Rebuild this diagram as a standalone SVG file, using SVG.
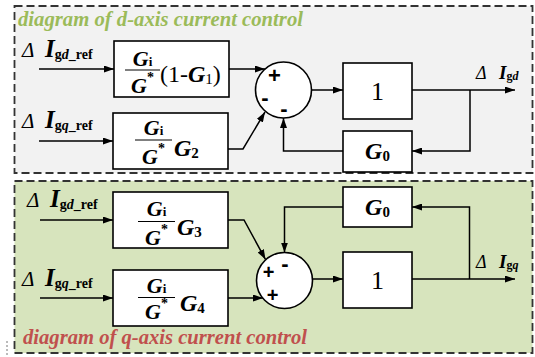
<svg xmlns="http://www.w3.org/2000/svg" width="535" height="357" viewBox="0 0 535 357">
<style>
.panel{stroke:#333;stroke-width:1.8;stroke-dasharray:8,4}
.blk{fill:#fff;stroke:#000;stroke-width:1.6}
.sum{fill:#fff;stroke:#000;stroke-width:1.6}
.ln{fill:none;stroke:#000;stroke-width:1.5}
.frac{stroke:#000;stroke-width:1}
.t{font-family:"Liberation Serif","Times New Roman",serif;fill:#000}
.gb{font-weight:bold;font-style:italic}
.bu{font-weight:bold;font-style:normal}
.rg{font-weight:normal;font-style:normal}
.it{font-style:italic;font-weight:normal}
.sg{font-family:"Liberation Sans",Arial,sans-serif;fill:#000;text-anchor:middle;font-weight:bold}
.title{font-family:"Liberation Serif","Times New Roman",serif;font-weight:bold;font-style:italic;font-size:21px}
</style>
<defs>
<marker id="ah" markerUnits="userSpaceOnUse" markerWidth="10" markerHeight="7" refX="10" refY="3.5" orient="auto">
<path d="M0,0 L10,3.5 L0,7 z" fill="#000"/>
</marker>
</defs>

<g id="panel-d">
<rect class="panel" x="14.5" y="6" width="518" height="167" fill="#f2f2f2"/>
<text class="title" x="18" y="26" fill="#9bbb59" textLength="285" lengthAdjust="spacingAndGlyphs">diagram of d-axis current control</text>
</g>
<g id="panel-q">
<rect class="panel" x="14.5" y="181" width="518" height="172" fill="#d7e4bd"/>
<text class="title" x="23" y="344" fill="#c0504d" textLength="284" lengthAdjust="spacingAndGlyphs">diagram of q-axis current control</text>
<line x1="7" y1="341" x2="7" y2="355" stroke="#777" stroke-width="1" stroke-dasharray="2,2"/>
</g>

<g id="connectors">
<line class="ln" x1="39" y1="69" x2="114" y2="69" marker-end="url(#ah)"/>
<line class="ln" x1="39" y1="141" x2="113" y2="141" marker-end="url(#ah)"/>
<line class="ln" x1="229" y1="69" x2="265" y2="69" marker-end="url(#ah)"/>
<polyline class="ln" points="228,149 243,149 265,112" marker-end="url(#ah)"/>
<line class="ln" x1="311.5" y1="90" x2="343" y2="90" marker-end="url(#ah)"/>
<line class="ln" x1="412" y1="90" x2="515" y2="90" marker-end="url(#ah)"/>
<polyline class="ln" points="470,90 470,151 412,151" marker-end="url(#ah)"/>
<polyline class="ln" points="343,151 283.5,151 283.5,118" marker-end="url(#ah)"/>

<line class="ln" x1="40" y1="220" x2="113" y2="220" marker-end="url(#ah)"/>
<line class="ln" x1="40" y1="298" x2="113" y2="298" marker-end="url(#ah)"/>
<polyline class="ln" points="228,220 244,220 265.5,259.5" marker-end="url(#ah)"/>
<line class="ln" x1="228" y1="298" x2="263" y2="298" marker-end="url(#ah)"/>
<line class="ln" x1="312.5" y1="279" x2="343" y2="279" marker-end="url(#ah)"/>
<line class="ln" x1="412" y1="279" x2="515" y2="279" marker-end="url(#ah)"/>
<polyline class="ln" points="469.5,279 469.5,207 412,207" marker-end="url(#ah)"/>
<polyline class="ln" points="343,207 284.5,207 284.5,252.5" marker-end="url(#ah)"/>
</g>

<g id="label-in1">
<text class="t it" x="22" y="57" font-size="21">Δ</text>
<text class="t gb" x="45" y="57" font-size="25">I<tspan class="bu" font-size="14" dy="2">g</tspan><tspan class="gb" font-size="14">d</tspan><tspan class="bu" font-size="14">_ref</tspan></text>
</g>
<g id="label-in2">
<text class="t it" x="22" y="128" font-size="21">Δ</text>
<text class="t gb" x="45" y="128" font-size="25">I<tspan class="bu" font-size="14" dy="2">g</tspan><tspan class="gb" font-size="14">q</tspan><tspan class="bu" font-size="14">_ref</tspan></text>
</g>
<g id="label-in3">
<text class="t it" x="27" y="207" font-size="21">Δ</text>
<text class="t gb" x="50" y="207" font-size="25">I<tspan class="bu" font-size="14" dy="2">g</tspan><tspan class="gb" font-size="14">d</tspan><tspan class="bu" font-size="14">_ref</tspan></text>
</g>
<g id="label-in4">
<text class="t it" x="22" y="286" font-size="21">Δ</text>
<text class="t gb" x="45" y="286" font-size="25">I<tspan class="bu" font-size="14" dy="2">g</tspan><tspan class="gb" font-size="14">q</tspan><tspan class="bu" font-size="14">_ref</tspan></text>
</g>

<g id="block1">
<rect class="blk" x="114" y="41" width="115" height="56"/>
<text class="t gb" x="142.5" y="66" font-size="22" text-anchor="middle">G<tspan class="bu" font-size="13">i</tspan></text>
<line class="frac" x1="125" y1="70" x2="160" y2="70"/>
<text class="t gb" x="142.5" y="93" font-size="22" text-anchor="middle">G<tspan class="bu" font-size="14" dy="-11">*</tspan></text>
<text class="t rg" x="160" y="82" font-size="24">(1-<tspan class="gb">G</tspan><tspan class="rg" font-size="15" dy="2">1</tspan><tspan dy="-2">)</tspan></text>
</g>
<g id="block2">
<rect class="blk" x="113" y="113" width="115" height="56"/>
<text class="t gb" x="153.5" y="135" font-size="22" text-anchor="middle">G<tspan class="bu" font-size="13">i</tspan></text>
<line class="frac" x1="135" y1="140" x2="172" y2="140"/>
<text class="t gb" x="153.5" y="164" font-size="22" text-anchor="middle">G<tspan class="bu" font-size="14" dy="-11">*</tspan></text>
<text class="t gb" x="174" y="156" font-size="24">G<tspan class="bu" font-size="15" dy="2">2</tspan></text>
</g>
<g id="block3">
<rect class="blk" x="113" y="192" width="115" height="56"/>
<text class="t gb" x="156.5" y="216" font-size="22" text-anchor="middle">G<tspan class="bu" font-size="13">i</tspan></text>
<line class="frac" x1="138" y1="221.5" x2="175" y2="221.5"/>
<text class="t gb" x="156.5" y="245" font-size="22" text-anchor="middle">G<tspan class="bu" font-size="14" dy="-11">*</tspan></text>
<text class="t gb" x="177" y="235" font-size="24">G<tspan class="bu" font-size="15" dy="2">3</tspan></text>
</g>
<g id="block4">
<rect class="blk" x="113" y="270" width="115" height="56"/>
<text class="t gb" x="156.5" y="293" font-size="22" text-anchor="middle">G<tspan class="bu" font-size="13">i</tspan></text>
<line class="frac" x1="138" y1="297.5" x2="175" y2="297.5"/>
<text class="t gb" x="156.5" y="319" font-size="22" text-anchor="middle">G<tspan class="bu" font-size="14" dy="-11">*</tspan></text>
<text class="t gb" x="180" y="311" font-size="24">G<tspan class="bu" font-size="15" dy="2">4</tspan></text>
</g>

<g id="sum-d">
<circle class="sum" cx="283.5" cy="90" r="28"/>
<text class="sg" x="274.5" y="83" font-size="22">+</text>
<text class="sg" x="265" y="105" font-size="22">-</text>
<text class="sg" x="284" y="116" font-size="22">-</text>
</g>
<g id="sum-q">
<circle class="sum" cx="284.5" cy="280.5" r="28"/>
<text class="sg" x="268.5" y="279" font-size="20">+</text>
<text class="sg" x="285" y="271" font-size="22">-</text>
<text class="sg" x="272.5" y="302" font-size="20">+</text>
</g>

<g id="one-d">
<rect class="blk" x="343" y="63" width="69" height="56"/>
<text class="t rg" x="377.5" y="100" font-size="26" text-anchor="middle">1</text>
</g>
<g id="g0-d">
<rect class="blk" x="343" y="131" width="69" height="41"/>
<text class="t gb" x="377.5" y="159" font-size="24" text-anchor="middle">G<tspan class="bu" font-size="15" dy="2">0</tspan></text>
</g>
<g id="one-q">
<rect class="blk" x="343" y="252" width="69" height="56"/>
<text class="t rg" x="377.5" y="289" font-size="26" text-anchor="middle">1</text>
</g>
<g id="g0-q">
<rect class="blk" x="343" y="187" width="69" height="40"/>
<text class="t gb" x="377.5" y="215" font-size="24" text-anchor="middle">G<tspan class="bu" font-size="15" dy="2">0</tspan></text>
</g>

<g id="label-out-d">
<text class="t it" x="476" y="79" font-size="18">Δ</text>
<text class="t gb" x="499" y="79" font-size="19">I<tspan class="bu" font-size="12" dy="1">g</tspan><tspan class="gb" font-size="12">d</tspan></text>
</g>
<g id="label-out-q">
<text class="t it" x="476" y="268" font-size="18">Δ</text>
<text class="t gb" x="499" y="268" font-size="19">I<tspan class="bu" font-size="12" dy="1">g</tspan><tspan class="gb" font-size="12">q</tspan></text>
</g>
</svg>
